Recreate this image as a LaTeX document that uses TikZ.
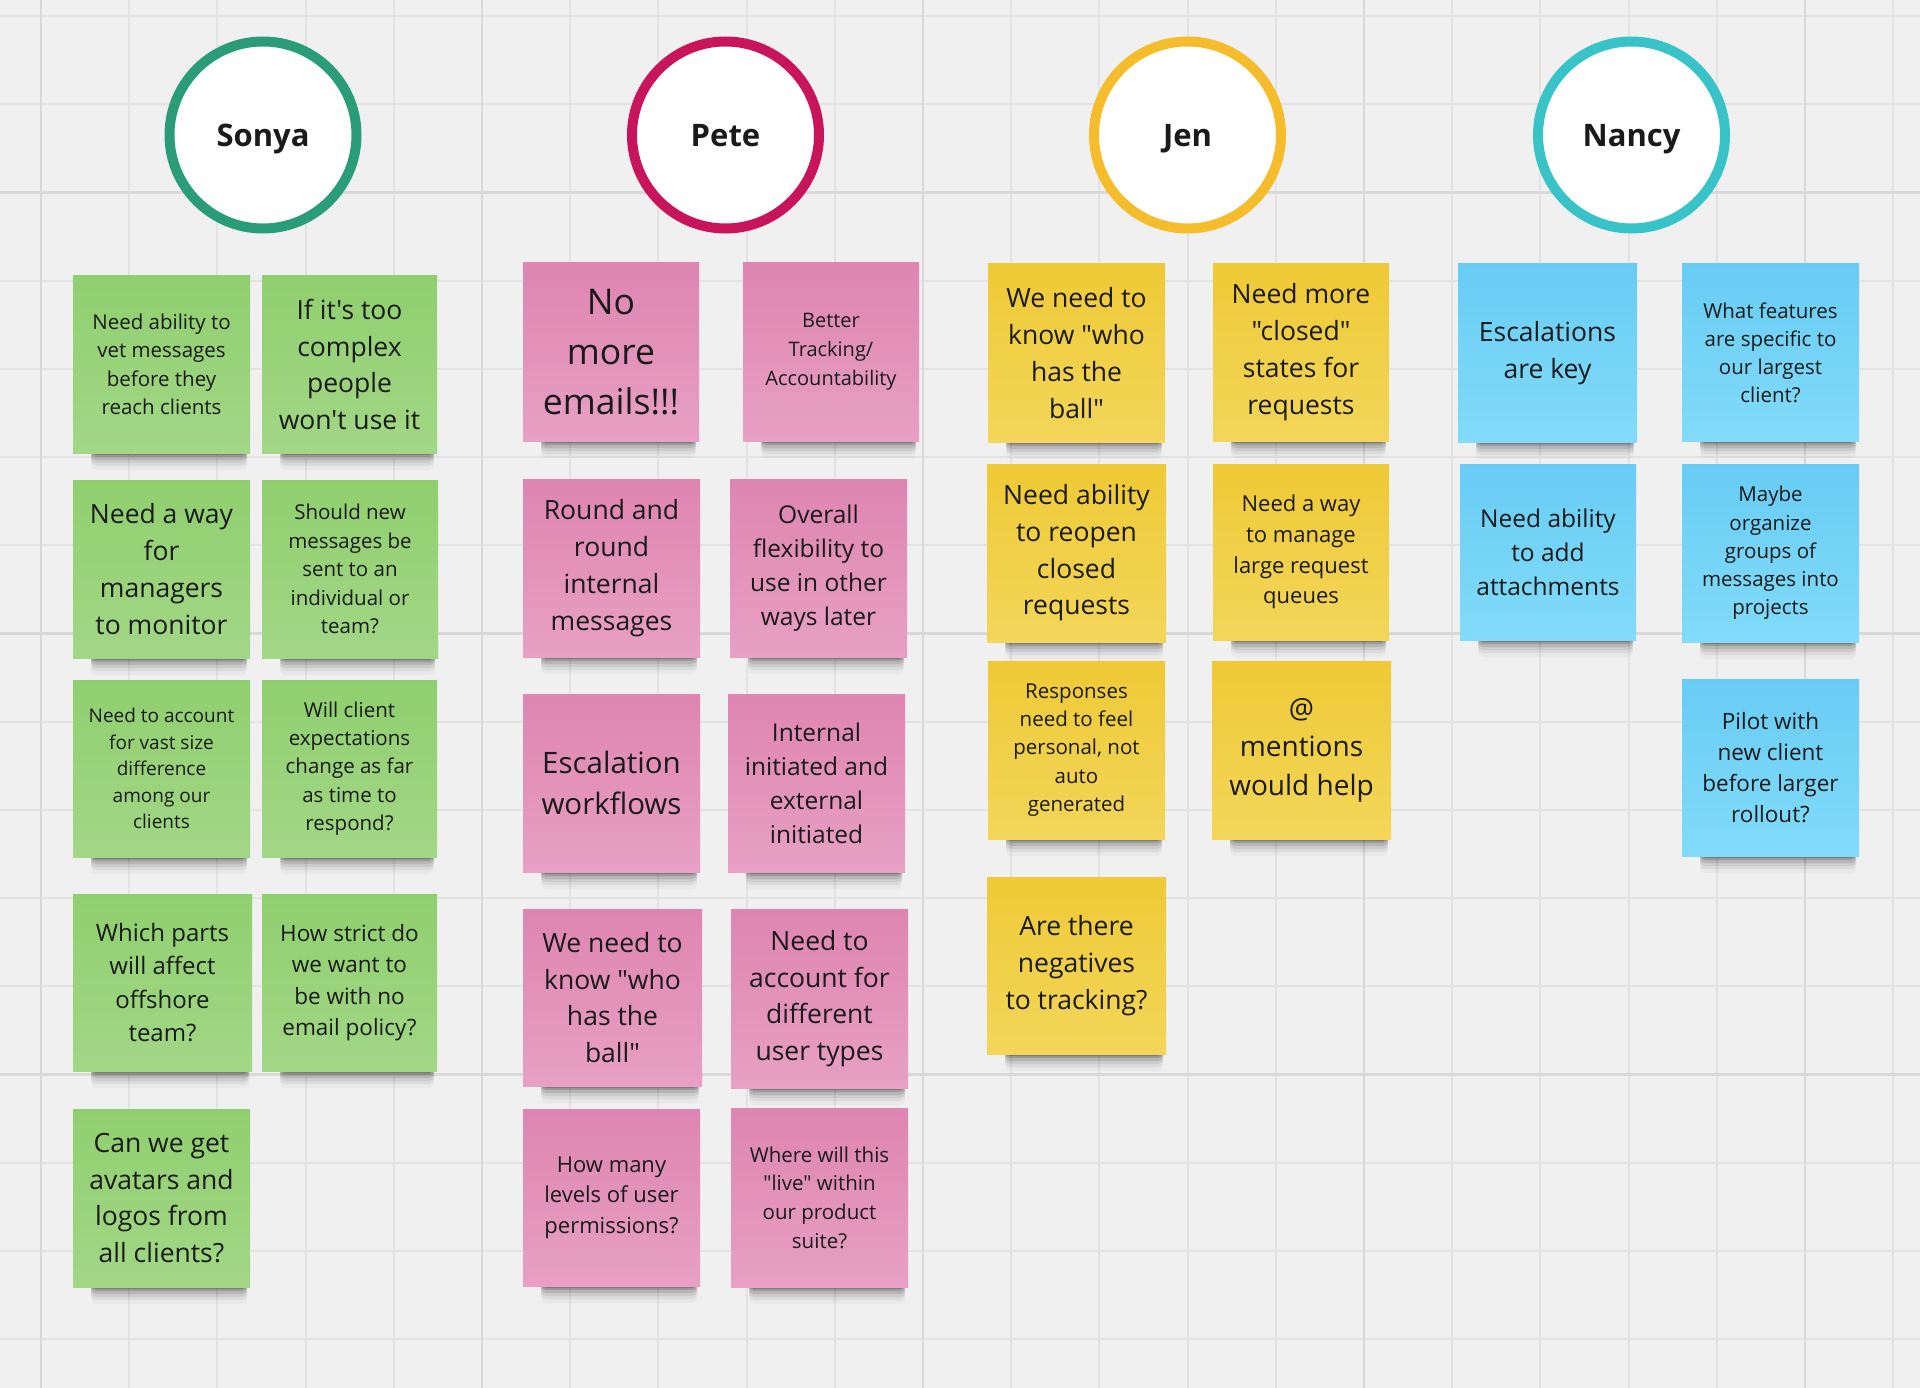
\documentclass[tikz,border=0pt]{standalone}
\usepackage{fontspec}
\setmainfont{Open Sans}[Ligatures=TeXOff]
\definecolor{bg}{HTML}{F0F0F0}
\definecolor{gridminor}{HTML}{E3E3E3}
\definecolor{gridmajor}{HTML}{D9D9D9}
\definecolor{greentop}{HTML}{90CF6F}
\definecolor{greenbot}{HTML}{A2D786}
\definecolor{pinktop}{HTML}{DE85B1}
\definecolor{pinkbot}{HTML}{E8A0C4}
\definecolor{yellowtop}{HTML}{EFCA36}
\definecolor{yellowbot}{HTML}{F3D65A}
\definecolor{bluetop}{HTML}{68CCF4}
\definecolor{bluebot}{HTML}{82DBF9}
\definecolor{ringsonya}{HTML}{2A9D78}
\definecolor{ringpete}{HTML}{C8145A}
\definecolor{ringjen}{HTML}{F5BD2B}
\definecolor{ringnancy}{HTML}{38C3C9}
\definecolor{ink}{HTML}{1A1A1A}
\tikzset{
  sticky/.style={rectangle, inner sep=0pt, text=ink, align=center},
  person/.style={circle, inner sep=0pt, minimum size=187pt, line width=10pt, fill=white, text=ink,
                 text height=24pt, text depth=0pt, font=\fontsize{31}{36}\selectfont\bfseries},
}
% #1 name, #2 x1, #3 y1, #4 x2, #5 y2, #6 colour, #7 font size, #8 line skip, #9 text
\newcommand\putnote[9]{%
  \foreach \d/\o in {2/0.20,4/0.14,7/0.10,10/0.07,13/0.05,17/0.03}{%
    \fill[black, opacity=\o, rounded corners=5pt] (#2+18,#5-10) rectangle (#4-3,#5+\d);
  }
  \node[sticky, top color=#6top, bottom color=#6bot,
        minimum width={(#4-#2)*1pt}, minimum height={(#5-#3)*1pt},
        font=\fontsize{#7}{#8}\selectfont] (#1) at ({(#2+#4)/2},{(#3+#5)/2}) {#9};
}
\begin{document}
\begin{tikzpicture}[x=1pt, y=-1pt]
\useasboundingbox (0,0) rectangle (1920,1388);
\fill[bg] (0,0) rectangle (1920,1388);
% grid
\foreach \i in {0,...,21}{
  \pgfmathsetmacro\gx{41+88.2*\i}
  \draw[gridminor, line width=2pt] (\gx,0) -- (\gx,1388);
}
\foreach \j in {0,...,15}{
  \pgfmathsetmacro\gy{16+88.2*\j}
  \draw[gridminor, line width=2pt] (0,\gy) -- (1920,\gy);
}
\foreach \i in {0,5,10,15,20}{
  \pgfmathsetmacro\gx{41+88.2*\i}
  \draw[gridmajor, line width=2.5pt] (\gx,0) -- (\gx,1388);
}
\foreach \j in {2,7,12}{
  \pgfmathsetmacro\gy{16+88.2*\j}
  \draw[gridmajor, line width=2.5pt] (0,\gy) -- (1920,\gy);
}
% people
\node[person, draw=ringsonya] (sonya) at (263,135) {Sonya};
\node[person, draw=ringpete] (pete) at (725.5,135) {Pete};
\node[person, draw=ringjen] (jen) at (1187.5,135) {Jen};
\node[person, draw=ringnancy] (nancy) at (1631.5,135) {Nancy};
% Sonya
\putnote{s1}{73}{276}{250}{453}{green}{20.5}{28.5}{Need ability to\\vet messages\\before they\\reach clients}
\putnote{s2}{262}{276}{437}{453}{green}{26.5}{36.7}{If it's too\\complex\\people\\won't use it}
\putnote{s3}{73}{480}{250}{658}{green}{26.5}{37}{Need a way\\for\\managers\\to monitor}
\putnote{s4}{262}{480}{438}{658}{green}{20.5}{28.5}{Should new\\messages be\\sent to an\\individual or\\team?}
\putnote{s5}{73}{680}{250}{857}{green}{19}{26.6}{Need to account\\for vast size\\difference\\among our\\clients}
\putnote{s6}{262}{680}{437}{857}{green}{20.5}{28.2}{Will client\\expectations\\change as far\\as time to\\respond?}
\putnote{s7}{73}{894}{252}{1071}{green}{24}{33.5}{Which parts\\will affect\\offshore\\team?}
\putnote{s8}{262}{894}{437}{1071}{green}{22.5}{31.4}{How strict do\\we want to\\be with no\\email policy?}
\putnote{s9}{73}{1109}{250}{1287}{green}{26.5}{36.7}{Can we get\\avatars and\\logos from\\all clients?}
% Pete
\putnote{p1}{523}{263}{699}{441}{pink}{35.5}{49.6}{No\\more\\emails!!!}
\putnote{p2}{743}{263}{919}{441}{pink}{20}{28.8}{Better\\Tracking/\\Accountability}
\putnote{p3}{523}{479}{700}{657}{pink}{26.5}{37}{Round and\\round\\internal\\messages}
\putnote{p4}{730}{479}{907}{657}{pink}{24.5}{33.9}{Overall\\flexibility to\\use in other\\ways later}
\putnote{p5}{523}{694}{700}{872}{pink}{29.5}{40.4}{Escalation\\workflows}
\putnote{p6}{728}{694}{905}{872}{pink}{24.5}{33.9}{Internal\\initiated and\\external\\initiated}
\putnote{p7}{523}{909}{702}{1086}{pink}{26.5}{36.7}{We need to\\know "who\\has the\\ball"}
\putnote{p8}{731}{909}{908}{1088}{pink}{26.5}{36.7}{Need to\\account for\\different\\user types}
\putnote{p9}{523}{1109}{700}{1286}{pink}{22}{30.6}{How many\\levels of user\\permissions?}
\putnote{p10}{731}{1108}{908}{1287}{pink}{20.5}{28.6}{Where will this\\"live" within\\our product\\suite?}
% Jen
\putnote{j1}{988}{264}{1165}{442}{yellow}{26.5}{37}{We need to\\know "who\\has the\\ball"}
\putnote{j2}{1213}{264}{1389}{441}{yellow}{26.5}{37}{Need more\\"closed"\\states for\\requests}
\putnote{j3}{987}{464}{1166}{642}{yellow}{26.5}{36.7}{Need ability\\to reopen\\closed\\requests}
\putnote{j4}{1213}{464}{1389}{640}{yellow}{22}{30.6}{Need a way\\to manage\\large request\\queues}
\putnote{j5}{988}{661}{1165}{839}{yellow}{20.5}{28.2}{Responses\\need to feel\\personal, not\\auto\\generated}
\putnote{j6}{1212}{661}{1391}{839}{yellow}{28}{38.6}{@\\mentions\\would help}
\putnote{j7}{987}{877}{1166}{1054}{yellow}{26.5}{36.7}{Are there\\negatives\\to tracking?}
% Nancy
\putnote{n1}{1458}{264}{1637}{442}{blue}{26.5}{37}{Escalations\\are key}
\putnote{n2}{1682}{264}{1859}{441}{blue}{20.5}{28.1}{What features\\are specific to\\our largest\\client?}
\putnote{n3}{1460}{464}{1636}{640}{blue}{24.5}{34}{Need ability\\to add\\attachments}
\putnote{n4}{1682}{464}{1859}{642}{blue}{20.5}{28.3}{Maybe\\organize\\groups of\\messages into\\projects}
\putnote{n5}{1682}{679}{1859}{856}{blue}{22.5}{31}{Pilot with\\new client\\before larger\\rollout?}
\end{tikzpicture}
\end{document}
